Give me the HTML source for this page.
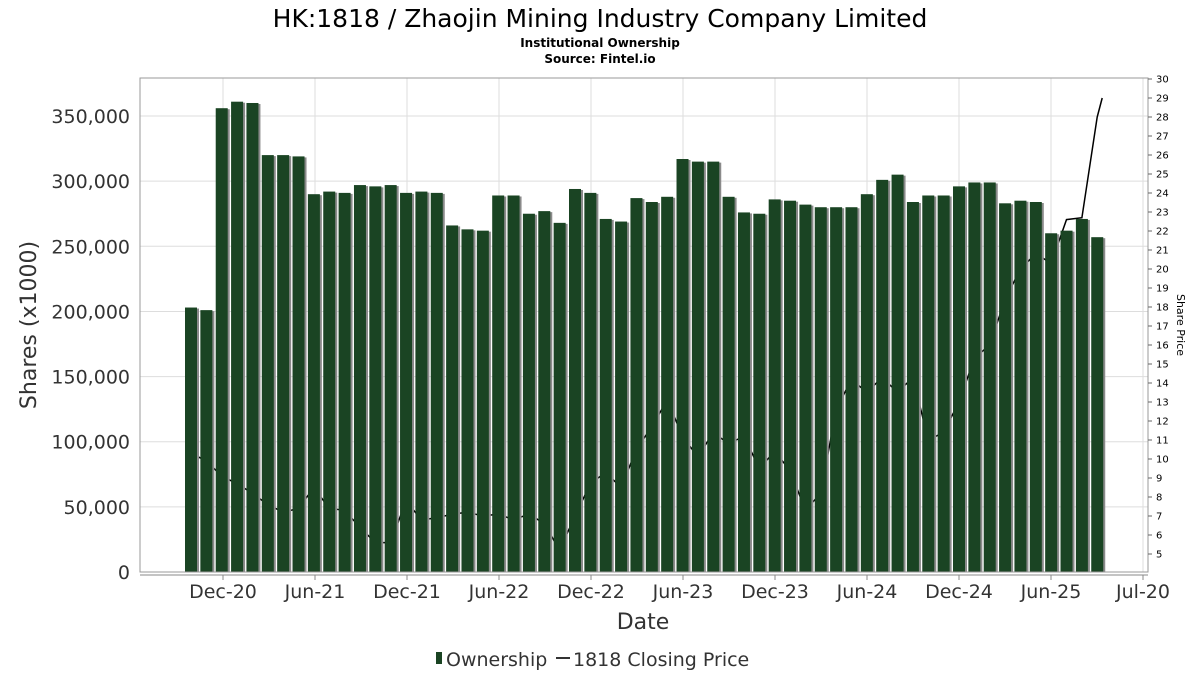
<!DOCTYPE html>
<html><head><meta charset="utf-8"><style>
body{margin:0;background:#fff;font-family:"DejaVu Sans","Liberation Sans",sans-serif;}
</style></head><body>
<svg id="c" width="1200" height="675" xmlns="http://www.w3.org/2000/svg">
<text x="600" y="27" text-anchor="middle" font-size="25" fill="#000">HK:1818 / Zhaojin Mining Industry Company Limited</text>
<text x="600" y="47" text-anchor="middle" font-size="12" font-weight="bold">Institutional Ownership</text>
<text x="600" y="63" text-anchor="middle" font-size="12" font-weight="bold">Source: Fintel.io</text>
<g id="grid"></g><g id="line"></g><g id="bars"></g><g id="axes"></g>
<text x="643" y="629" text-anchor="middle" font-size="22" fill="#333">Date</text>
<text transform="translate(36,325) rotate(-90)" text-anchor="middle" font-size="22" fill="#333">Shares (x1000)</text>
<text transform="translate(1177,325) rotate(90)" text-anchor="middle" font-size="11" fill="#000">Share Price</text>
<g>
<rect x="436" y="652" width="6" height="12" fill="#1a4423"/>
<text x="446" y="666" font-size="19" fill="#333">Ownership</text>
<line x1="556" y1="658" x2="570" y2="658" stroke="#333" stroke-width="2"/>
<text x="573" y="666" font-size="19" fill="#333">1818 Closing Price</text>
</g>
</svg>
<script>
const shares=[203,201,356,361,360,320,320,319,290,292,291,297,296,297,291,292,291,266,263,262,289,289,275,277,268,294,291,271,269,287,284,288,317,315,315,288,276,275,286,285,282,280,280,280,290,301,305,284,289,289,296,299,299,283,285,284,260,262,271,257];
const prices=[10.3,9.9,9.1,8.7,8.2,7.6,7.2,7.4,8.5,7.4,7.3,6.4,5.6,5.6,7.8,6.8,6.9,7.1,7.2,7.0,7.1,6.8,7.1,6.6,5.2,7.0,8.7,9.3,8.5,10.5,11.7,13.1,11.2,10.1,11.4,10.8,11.2,9.5,10.4,9.4,7.3,8.2,12.6,14.2,13.5,14.3,13.5,14.3,11.0,11.4,13.0,15.3,16.0,18.4,20.0,20.8,20.3,22.6,22.7,28.0,29.0];
const yTicks=[0,50,100,150,200,250,300,350];
const yTickLabels=["0","50,000","100,000","150,000","200,000","250,000","300,000","350,000"];
const pTicks=[5,6,7,8,9,10,11,12,13,14,15,16,17,18,19,20,21,22,23,24,25,26,27,28,29,30];
const xLabels=["Dec-20","Jun-21","Dec-21","Jun-22","Dec-22","Jun-23","Dec-23","Jun-24","Dec-24","Jun-25","Jul-20"];
const NS="http://www.w3.org/2000/svg";
const L=140,R=1148,T=78,B=572;
const y=v=>B-v/50*65.14;
const py=p=>554-(p-5)*19;
const bx=i=>185+i*15.36;
const xl=i=>223+i*92;
function mk(par,tag,at){const e=document.createElementNS(NS,tag);for(const k in at)e.setAttribute(k,at[k]);document.getElementById(par).appendChild(e);return e;}
yTicks.forEach((t,i)=>{
 const g=mk('grid','line',{x1:L,x2:R,y1:y(t),y2:y(t),stroke:'#ddd'});
 
 
 const tx=mk('axes','text',{x:130,y:y(t)+7,'text-anchor':'end','font-size':19,fill:'#333'});
 tx.textContent=yTickLabels[i];
 
 
});
xLabels.forEach((s,i)=>{
 const g=mk('grid','line',{x1:xl(i),x2:xl(i),y1:T,y2:B,stroke:'#ddd'});
 
 
 const tk=mk('axes','line',{x1:xl(i),x2:xl(i),y1:B+3,y2:B+8,stroke:'#888'});
 
 
 const tx=mk('axes','text',{x:xl(i),y:598,'text-anchor':'middle','font-size':19,fill:'#333'});
 tx.textContent=s;
 
 
});
let d='';
prices.forEach((p,i)=>{const x=i<60?bx(i)+6:bx(59)+11;d+=(i?'L':'M')+x.toFixed(1)+','+py(p).toFixed(1);});
const pl=mk('line','path',{d:d,fill:'none',stroke:'#000','stroke-width':1.5});


shares.forEach((v,i)=>{
 const s=mk('bars','rect',{x:bx(i)+2,y:y(v)+1,width:12,height:B-y(v)-1,fill:'#8a8a8a'});
 
 
 const b=mk('bars','rect',{x:bx(i),y:y(v),width:12,height:B-y(v),fill:'#1a4423'});
 
 
});
const fr=mk('axes','rect',{x:L,y:T,width:R-L,height:B-T,fill:'none',stroke:'#999'});


const xa=mk('axes','line',{x1:L,x2:R,y1:B+3,y2:B+3,stroke:'#888'});


pTicks.forEach(p=>{
 const tk=mk('axes','line',{x1:R,x2:R+4,y1:py(p),y2:py(p),stroke:'#666'});
 
 
 const tx=mk('axes','text',{x:R+8,y:py(p)+3.5,'font-size':10,fill:'#000'});
 tx.textContent=p;
 
 
});
</script>
</body></html>
